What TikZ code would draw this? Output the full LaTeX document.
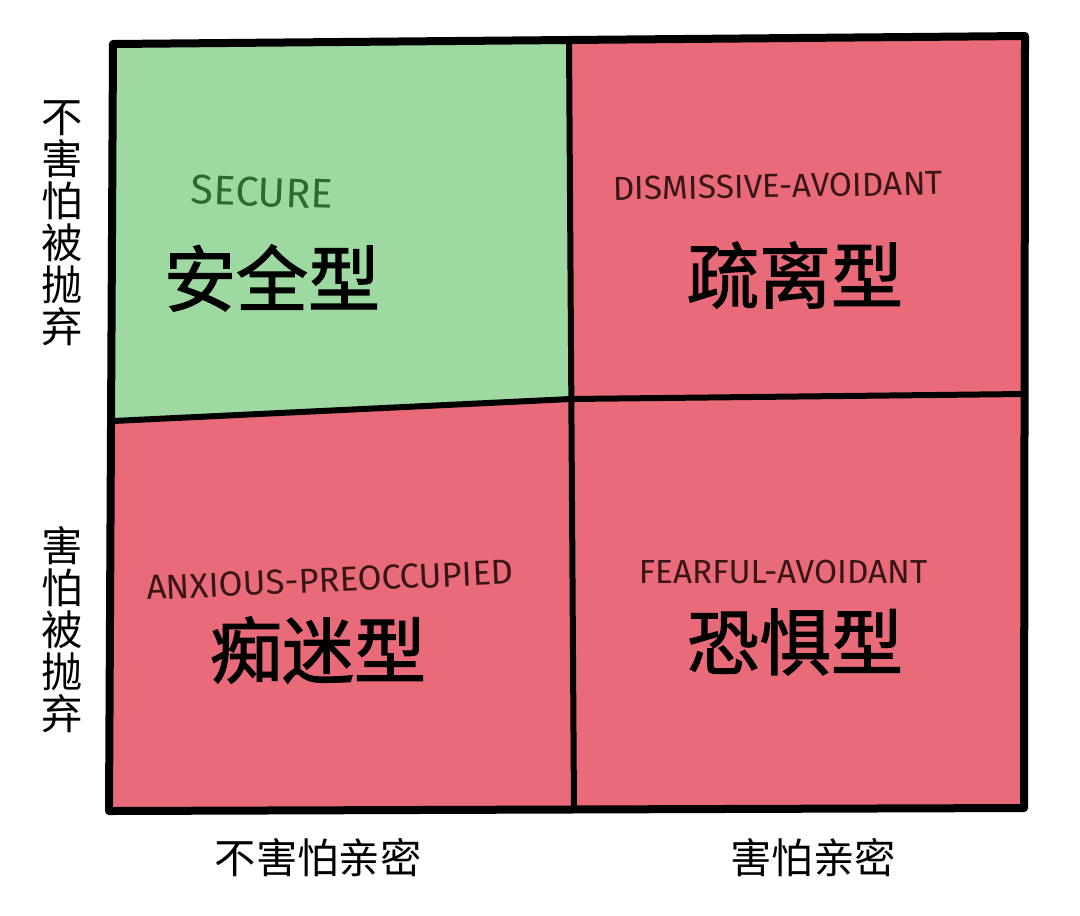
\documentclass[tikz,border=0pt]{standalone}
\usepackage{fontspec}
\newfontfamily\cjk{Noto Sans CJK SC}
\newfontfamily\cjkm[FakeBold=1.6]{Noto Sans CJK SC}
\newfontfamily\hand{Fira Sans}
\definecolor{qgreen}{HTML}{9DD9A0}
\definecolor{qred}{HTML}{E96B79}
\definecolor{engreen}{HTML}{2E6A30}
\definecolor{enred}{HTML}{3A1518}
\tikzset{
  frameline/.style={line width=6pt, line join=round, line cap=round},
  divline/.style={line width=4.5pt, line cap=round},
  entext/.style={font=\hand\fontsize{25}{25}\selectfont, inner sep=0pt},
  quadtext/.style={font=\cjkm\fontsize{54}{54}\selectfont, inner sep=0pt},
  axistext/.style={font=\cjk\fontsize{31}{31.5}\selectfont, inner sep=0pt, align=center},
}
\begin{document}
\begin{tikzpicture}[x=0.75pt,y=-0.75pt]
\useasboundingbox (0,0) rectangle (1080,915);
\fill[white] (0,0) rectangle (1080,915);
% quadrants
\fill[qred] (113,44) -- (1025,36) -- (1024,808) -- (109,811) -- cycle;
\fill[qgreen] (113,44) -- (569,41) -- (571,399) -- (113,421) -- cycle;
% frame and dividers
\draw[frameline] (113,44) -- (1025,36) -- (1024,808) -- (109,811) -- cycle;
\draw[divline] (569,41) -- (574,810);
\draw[divline] (113,421) -- (571,399) -- (1024,394);
% quadrant labels
\node[entext, text=engreen, rotate=-2, font=\hand\fontsize{31}{31}\selectfont] (sec) at (262,192) {SECURE};
\node[quadtext] (anq) at (272,278) {安全型};
\node[entext, text=enred, rotate=1] (dis) at (778,186) {DISMISSIVE-AVOIDANT};
\node[quadtext] (slx) at (795,275) {疏离型};
\node[entext, text=enred, rotate=2.5, font=\hand\fontsize{26}{26}\selectfont] (anx) at (330,580) {ANXIOUS-PREOCCUPIED};
\node[quadtext] (cmx) at (318,650) {痴迷型};
\node[entext, text=enred] (fea) at (783,572) {FEARFUL-AVOIDANT};
\node[quadtext] (kjx) at (795,642) {恐惧型};
% axis labels
\node[axistext] (nfa) at (62,223) {不\\害\\怕\\被\\抛\\弃};
\node[axistext] (fa) at (62,630) {害\\怕\\被\\抛\\弃};
\node[axistext] (nfi) at (318,858) {不害怕亲密};
\node[axistext] (fi) at (813,858) {害怕亲密};
\end{tikzpicture}
\end{document}
